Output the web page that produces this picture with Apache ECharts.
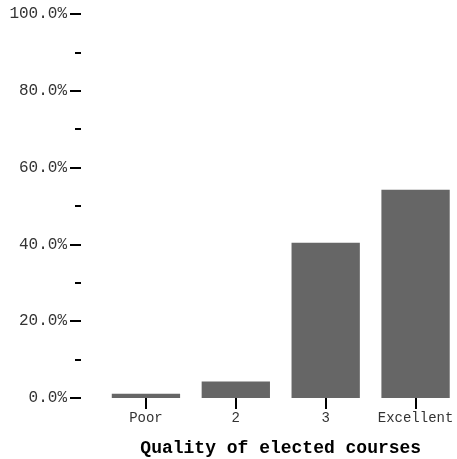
<!DOCTYPE html>
<html>
<head>
<meta charset="utf-8">
<script src="https://cdn.jsdelivr.net/npm/echarts@6/dist/echarts.min.js"></script>
<style>html,body{margin:0;padding:0;background:#fff}#c{width:457px;height:459px}</style>
</head>
<body>
<div id="c"></div>
<script>
const categories = ["Poor", "2", "3", "Excellent"];
const shares = [1.1, 4.3, 40.4, 54.2];
const xTitle = "Quality of elected courses";

const chart = echarts.init(document.getElementById('c'), null, {renderer: 'canvas'});
chart.setOption({
  animation: false,
  grid: {left: 101, width: 359.5, top: 14, bottom: 61, containLabel: false, outerBoundsMode: 'none'},
  xAxis: {
    type: 'category',
    data: categories,
    name: xTitle,
    nameLocation: 'middle',
    nameGap: 41,
    nameTextStyle: {fontFamily: 'Liberation Mono', fontWeight: 'bold', fontSize: 18, color: '#000'},
    axisLine: {show: false},
    axisTick: {show: true, alignWithLabel: true, interval: 0, length: 11, lineStyle: {color: '#000', width: 2}},
    axisLabel: {fontFamily: 'Liberation Mono', fontSize: 14, color: '#333', margin: 13, interval: 0, hideOverlap: false}
  },
  yAxis: {
    type: 'value',
    min: 0, max: 100, interval: 20,
    offset: 20,
    axisLine: {show: false},
    splitLine: {show: false},
    axisTick: {show: true, length: 11, lineStyle: {color: '#000', width: 2}},
    minorTick: {show: true, splitNumber: 2, length: 6, lineStyle: {color: '#000', width: 2}},
    axisLabel: {fontFamily: 'Liberation Mono', fontSize: 16, color: '#333', margin: 14,
      formatter: v => v.toFixed(1) + '%'}
  },
  series: [{
    type: 'bar',
    data: shares,
    barCategoryGap: '24%',
    itemStyle: {color: '#666666'}
  }]
});
</script>
</body>
</html>
